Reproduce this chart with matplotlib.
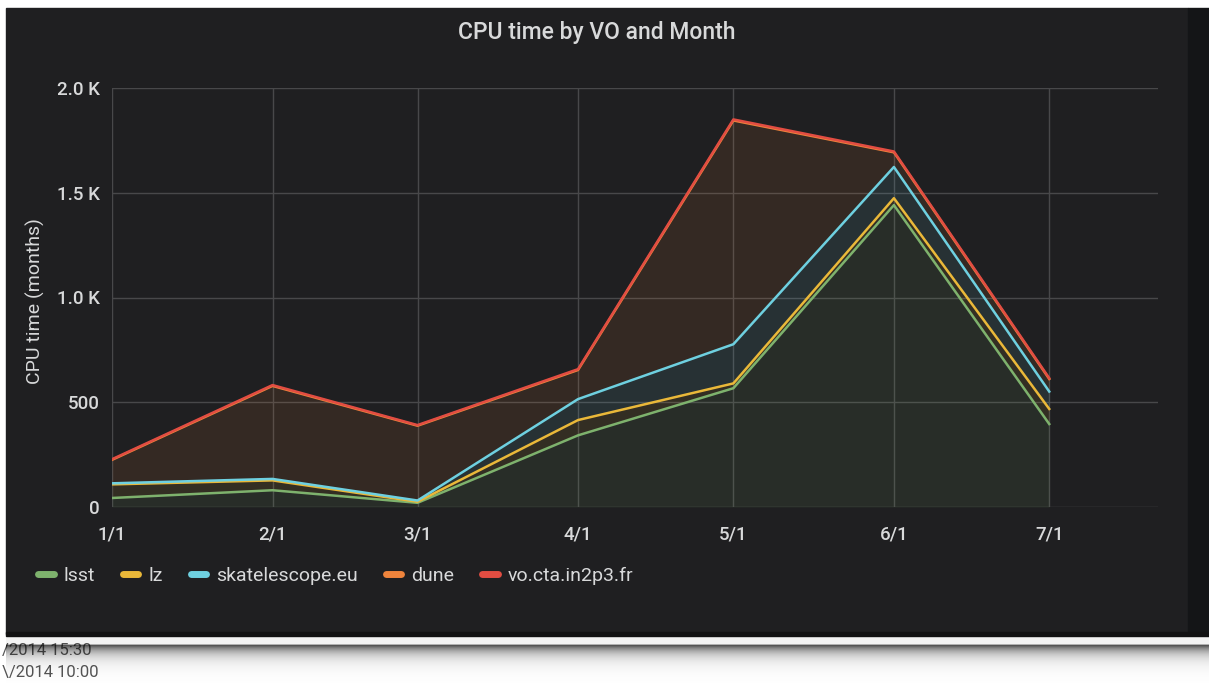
import numpy as np
import pandas as pd
import matplotlib
matplotlib.use('Agg')
import matplotlib.pyplot as plt
from matplotlib.patches import Rectangle
from matplotlib.lines import Line2D

plt.rcParams['font.family'] = ['Roboto', 'DejaVu Sans']

# monthly CPU time per VO (each series on its own, grafana stacks them)
months = pd.to_datetime(['2019-01-01', '2019-02-01', '2019-03-01', '2019-04-01',
                         '2019-05-01', '2019-06-01', '2019-07-01'])
month_labels = ['1/1', '2/1', '3/1', '4/1', '5/1', '6/1', '7/1']

lsst = [43, 80, 20, 342, 567, 1441, 396]
lz = [65, 47, 5, 73, 23, 33, 72]
skatelescope = [5, 7, 6, 100, 187, 149, 83]
dune = [112, 444, 357, 139, 1068, 70, 60]
vo_cta = [3, 4, 3, 4, 5, 4, 4]

series_names = ['lsst', 'lz', 'skatelescope.eu', 'dune', 'vo.cta.in2p3.fr']
series_colors = ['#7EB26D', '#EAB839', '#6ED0E0', '#EF843C', '#E24D42']

ytick_vals = [0, 500, 1000, 1500, 2000]
ytick_labels = ['0', '500', '1.0 K', '1.5 K', '2.0 K']

W, H = 1209, 683
fx = lambda px: px / W
fy = lambda py: 1 - py / H

fig = plt.figure(figsize=(W / 100, H / 100), dpi=100, facecolor='white')

# dark grafana panel + darker strip on the right
fig.add_artist(Rectangle((fx(6), fy(634)), fx(1188) - fx(6), fy(8) - fy(634),
                         transform=fig.transFigure, color='#1f1f21', zorder=-5))
fig.add_artist(Rectangle((fx(1188), fy(634)), fx(1209) - fx(1188), fy(8) - fy(634),
                         transform=fig.transFigure, color='#141517', zorder=-5))
fig.add_artist(Rectangle((fx(6), fy(636)), fx(1209) - fx(6), fy(632) - fy(636),
                         transform=fig.transFigure, color='#121213', zorder=-5))

ax = fig.add_axes([fx(112), fy(507), fx(1158) - fx(112), fy(88) - fy(507)])
ax.set_facecolor('none')

data = np.array([lsst, lz, skatelescope, dune, vo_cta], dtype=float)
tops = np.cumsum(data, axis=0)
lower = np.zeros(len(months))
for i in range(len(series_names)):
    ax.fill_between(months, lower, tops[i], color=series_colors[i], alpha=0.1, lw=0)
    lower = tops[i]
for i in range(len(series_names)):
    ax.plot(months, tops[i], color=series_colors[i], lw=1.8)

ax.set_ylim(0, 2000)
ax.set_xlim(pd.Timestamp('2019-01-01'), pd.Timestamp('2019-07-22'))
ax.set_yticks(ytick_vals)
ax.set_yticklabels(ytick_labels)
ax.set_xticks(months)
ax.set_xticklabels(month_labels)
ax.grid(True, color='#48484a', lw=1)
ax.set_axisbelow(True)
for s in ax.spines.values():
    s.set_visible(False)
ax.tick_params(length=0, colors='#d8d9da', labelsize=13.5)
for lab in ax.get_xticklabels() + ax.get_yticklabels():
    lab.set_fontweight('medium')
ax.tick_params(axis='y', pad=9)
ax.tick_params(axis='x', pad=13)

fig.text(fx(597), fy(33), 'CPU time by VO and Month', ha='center', va='center',
         color='#d8d9da', fontsize=16.5, fontweight='medium')
fig.text(fx(35), fy(301), 'CPU time (months)', rotation=90, ha='center', va='center',
         color='#d8d9da', fontsize=14)

handles = [Line2D([0], [0], color=c, lw=5, solid_capstyle='round') for c in series_colors]
fig.legend(handles, series_names, loc='center left', bbox_to_anchor=(fx(38), fy(576)),
           ncol=5, frameon=False, fontsize=14, labelcolor='#d8d9da',
           handlelength=0.8, handletextpad=0.5, columnspacing=1.45, borderpad=0,
           borderaxespad=0)

# page below the panel (partly hidden timestamps + shadow)
bot = fig.add_axes([0, 0, 1, fy(636)])
bot.set_xlim(0, W)
bot.set_ylim(683, 636)
bot.axis('off')
bot.text(2, 651, '/2014 15:30', color='#555555', fontsize=12, va='center', ha='left')
bot.text(2, 673, '\\/2014 10:00', color='#555555', fontsize=12, va='center', ha='left')
grad = np.zeros((60, 2, 4))
yy = np.linspace(636, 683, 60)
alpha = np.where(yy < 644, 0.05, np.clip(0.7 * np.exp(-(yy - 645) / 8.0), 0, 0.7))
grad[:, :, 3] = alpha[:, None]
bot.imshow(grad, extent=(6, W, 683, 636), aspect='auto', interpolation='bilinear', zorder=5)

fig.savefig('out.png', dpi=100, facecolor='white')
